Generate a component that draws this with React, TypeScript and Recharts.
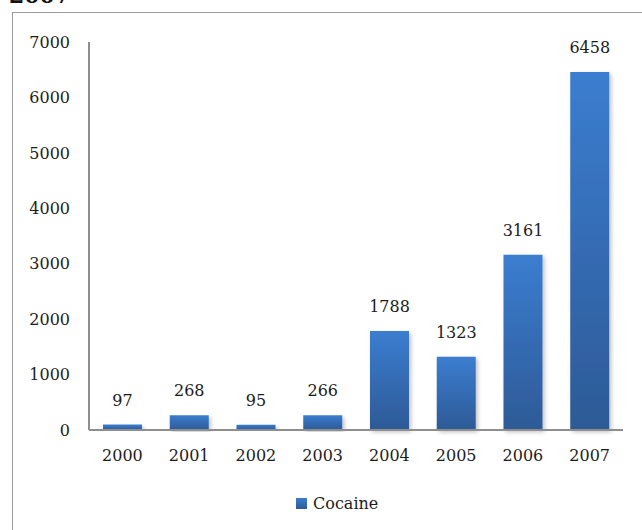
import React from 'react';
import { BarChart, Bar, XAxis, YAxis, LabelList, Legend } from 'recharts';

// Cocaine seizures per year
const years = ['2000', '2001', '2002', '2003', '2004', '2005', '2006', '2007'];
const cocaine = [97, 268, 95, 266, 1788, 1323, 3161, 6458];
const yTicks = [0, 1000, 2000, 3000, 4000, 5000, 6000, 7000];

const data = years.map((year, i) => ({ year, Cocaine: cocaine[i] }));

const FONT = 'DejaVu Serif';
const SIZE = 16;
const TEXT = '#1c1c1c';
const AXIS = '#8e8e8e';

const LegendContent = () => (
  <div
    style={{
      display: 'flex',
      alignItems: 'center',
      fontFamily: FONT,
      fontSize: SIZE,
      lineHeight: '19px',
      height: 19,
      color: TEXT,
    }}
  >
    <span
      style={{
        display: 'inline-block',
        width: 11,
        height: 11,
        marginRight: 6,
        background: 'linear-gradient(#3b7dd0, #2d5a96)',
      }}
    />
    <span>Cocaine</span>
  </div>
);

export default function App() {
  return (
    <div
      style={{
        position: 'fixed',
        left: 0,
        top: 0,
        width: 642,
        height: 530,
        overflow: 'hidden',
        background: '#fff',
      }}
    >
      <svg width={642} height={20} style={{ position: 'absolute', left: 0, top: 0 }}>
        <text x={9} y={3} fontFamily={FONT} fontWeight="bold" fontSize={22} fill="#111">
          2007
        </text>
      </svg>
      <div
        style={{
          position: 'absolute',
          left: 12,
          top: 12,
          width: 700,
          height: 600,
          border: '1.5px solid #9a9a9a',
        }}
      />
      <div style={{ position: 'absolute', left: 0, top: 0 }}>
        <BarChart
          width={642}
          height={530}
          data={data}
          margin={{ top: 42, right: 19, left: 0, bottom: 51 }}
          barSize={39}
        >
          <defs>
            <linearGradient id="cocaineFill" x1="0" y1="0" x2="0" y2="1">
              <stop offset="0%" stopColor="#3b7dd0" />
              <stop offset="100%" stopColor="#2d5a96" />
            </linearGradient>
            <filter id="barShadow" x="-20%" y="-5%" width="150%" height="115%">
              <feGaussianBlur in="SourceAlpha" stdDeviation="2" />
              <feOffset dx="2" dy="2" result="blur" />
              <feComponentTransfer>
                <feFuncA type="linear" slope="0.25" />
              </feComponentTransfer>
              <feMerge>
                <feMergeNode />
                <feMergeNode in="SourceGraphic" />
              </feMerge>
            </filter>
          </defs>
          <XAxis
            dataKey="year"
            height={30}
            tickLine={false}
            tickSize={0}
            tickMargin={20}
            axisLine={{ stroke: AXIS, strokeWidth: 2 }}
            tick={{ fill: TEXT, fontSize: SIZE, fontFamily: FONT }}
          />
          <YAxis
            width={89}
            domain={[0, 7000]}
            ticks={yTicks}
            interval={0}
            tickLine={false}
            tickSize={0}
            tickMargin={19}
            axisLine={{ stroke: AXIS, strokeWidth: 2 }}
            tick={{ fill: TEXT, fontSize: SIZE, fontFamily: FONT }}
          />
          <Legend
            verticalAlign="bottom"
            content={<LegendContent />}
            wrapperStyle={{ left: 296, top: 494, width: 'auto' }}
          />
          <Bar
            dataKey="Cocaine"
            fill="url(#cocaineFill)"
            filter="url(#barShadow)"
            isAnimationActive={false}
          >
            <LabelList
              dataKey="Cocaine"
              position="top"
              offset={19}
              fill={TEXT}
              fontSize={SIZE}
              fontFamily={FONT}
            />
          </Bar>
        </BarChart>
      </div>
    </div>
  );
}
